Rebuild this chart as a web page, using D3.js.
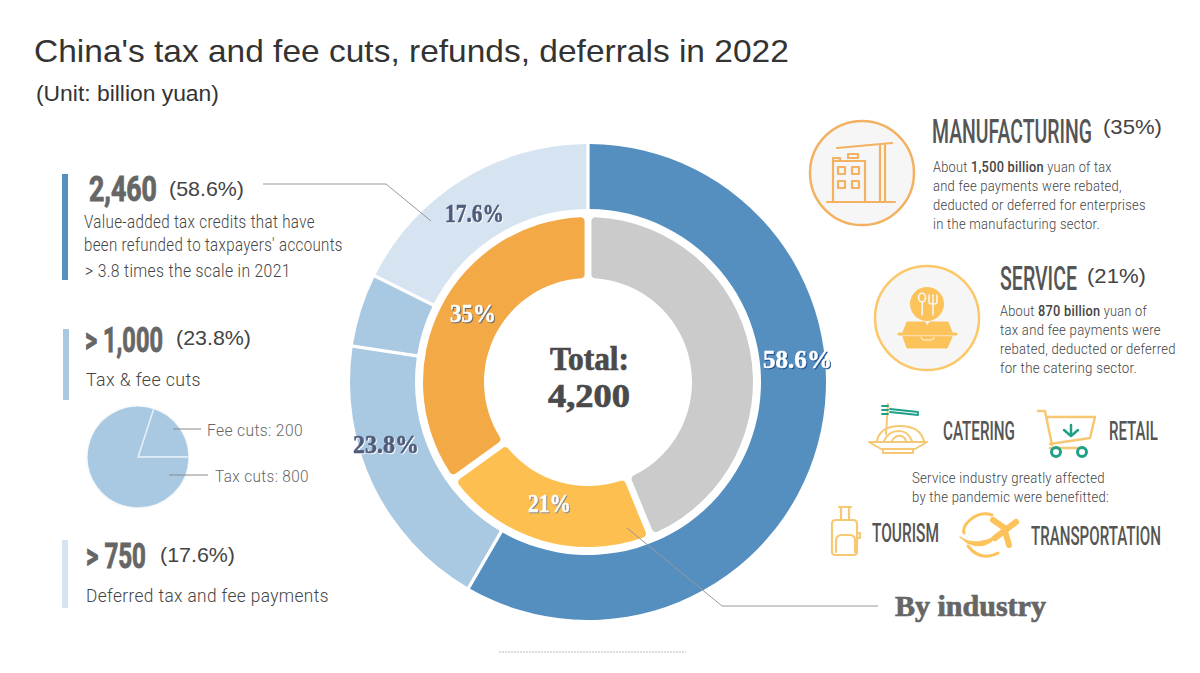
<!DOCTYPE html>
<html><head><meta charset="utf-8">
<script src="https://cdnjs.cloudflare.com/ajax/libs/d3/7.8.5/d3.min.js"></script>
<style>html,body{margin:0;padding:0;background:#fff;overflow:hidden}svg{display:block}</style>
</head><body><svg id="c" width="1200" height="673"></svg>
<script>
const outerLabels = ["Refunds","Tax cuts","Fee cuts","Deferrals"];
const outerValues = [58.6, 19.0, 4.8, 17.6];
const outerColors = ["#548fc0","#a9c8e1","#a9c8e1","#d5e4f0"];
const innerLabels = ["Other","Service","Manufacturing"];
const innerValues = [44, 21, 35];
const innerColors = ["#cbcbcb","#fdbf50","#f4a947"];
const miniLabels = ["Fee cuts","Tax cuts"];
const miniValues = [200, 800];
const miniColor = "#a9c8e1";

const svg = d3.select("#c");
const SANS="'Liberation Sans',Arial,sans-serif", COND="Roboto,sans-serif", SERIF="'Liberation Serif',serif";

// text fitted to a known x-range by horizontal scaling
function put(parts,x0,x1,y,o){
  const g=svg.append("g");
  const t=g.append("text").attr("x",0).attr("y",0)
    .attr("font-family",o.font||COND).attr("font-size",o.size)
    .attr("font-weight",o.weight||400).attr("fill",o.fill||"#555");
  if(o.spacing) t.attr("letter-spacing",o.spacing);
  if(o.stroke) t.attr("stroke",o.fill).attr("stroke-width",o.stroke);
  (Array.isArray(parts)?parts:[[parts,o.weight||400]]).forEach(p=>{
    t.append("tspan").attr("font-weight",p[1]).style("white-space","pre").text(p[0]);
  });
  if(o.shadow) t.style("filter",`drop-shadow(${o.dx||1.5}px ${o.dy||1.5}px 0 ${o.shadow})`);
  const len=t.node().getComputedTextLength();
  g.attr("transform",`translate(${x0},${y}) scale(${(x1-x0)/len},1)`);
  return t;
}

// title
put("China's tax and fee cuts, refunds, deferrals in 2022",34,789,62,{font:SANS,size:32,fill:"#333"});
put("(Unit: billion yuan)",36,219,101,{font:SANS,size:22,fill:"#333"});

// donut
const cx=588, cy=382;
const donut=svg.append("g").attr("transform",`translate(${cx},${cy})`);
const pieO=d3.pie().sort(null).padAngle(0.011);
const arcO=d3.arc().innerRadius(173).outerRadius(238);
donut.selectAll("path.o").data(pieO(outerValues)).join("path").attr("class","o")
  .attr("d",arcO).attr("fill",(d,i)=>outerColors[i]);
const pieI=d3.pie().sort(null).padAngle(0.035);
const arcI=d3.arc().innerRadius(104).outerRadius(165).cornerRadius(4);
donut.selectAll("path.i").data(pieI(innerValues)).join("path").attr("class","i")
  .attr("d",arcI).attr("fill",(d,i)=>innerColors[i]);

// left bars
[[62,174,106,outerColors[0]],[63,329,71,outerColors[1]],[62,540,68,outerColors[3]]].forEach(b=>
  svg.append("rect").attr("x",b[0]).attr("y",b[1]).attr("width",6).attr("height",b[2]).attr("fill",b[3]));

// leaders
const leader=d3.line();
[[[263,184],[386,184],[431,221]],[[627,528],[722,606],[878,606]]].forEach(p=>
  svg.append("path").attr("d",leader(p)).attr("fill","none").attr("stroke","#999").attr("stroke-width",1));

// dotted line
svg.append("line").attr("x1",499).attr("x2",686).attr("y1",652).attr("y2",652)
  .attr("stroke","#bbb").attr("stroke-width",1).attr("stroke-dasharray","2 1");

// left text
const H={size:35,weight:700,fill:"#666",stroke:0.9}, P={font:SANS,size:21,fill:"#444"}, B={size:18,weight:300,fill:"#444",spacing:0.4};
put("2,460",89,157,201,H); put("(58.6%)",169,244,196,P);
put("Value-added tax credits that have",84,315,228,B);
put("been refunded to taxpayers' accounts",84,343,251,B);
put("> 3.8 times the scale in 2021",85,291,277,B);
put("> 1,000",85,163,352,H); put("(23.8%)",176,251,345,P);
put("Tax & fee cuts",86,201,386,B);
put("> 750",86,146,568,H); put("(17.6%)",160,235,562,P);
put("Deferred tax and fee payments",86,329,602,B);

// mini pie
const mini=svg.append("g").attr("transform","translate(138,457)");
const pieM=d3.pie().sort(null).startAngle(18*Math.PI/180).endAngle(378*Math.PI/180);
const arcM=d3.arc().innerRadius(0).outerRadius(51);
mini.selectAll("path").data(pieM(miniValues)).join("path").attr("d",arcM)
  .attr("fill",miniColor).attr("stroke","#e4eef6").attr("stroke-width",1.5);
mini.append("circle").attr("r",51.5).attr("fill","none").attr("stroke","#fff").attr("stroke-width",1);
[[[173,429],[201,429]],[[169,475],[208,475]]].forEach(p=>
  svg.append("path").attr("d",leader(p)).attr("fill","none").attr("stroke","#888").attr("stroke-width",1));
const ML={size:17,weight:300,fill:"#666",spacing:0.4};
put(`${miniLabels[0]}: ${miniValues[0]}`,207,303,436,ML);
put(`${miniLabels[1]}: ${miniValues[1]}`,215,309,482,ML);

// donut labels
const L={font:SERIF,size:25,weight:700,stroke:0.5};
put("17.6%",445,504,222,{...L,fill:"#4f5b7a",shadow:"#fff"});
put("58.6%",763,832,368,{...L,fill:"#fff",shadow:"#1f4f8f"});
put("23.8%",353,419,453,{...L,fill:"#4f5b7a",shadow:"#fff"});
put("35%",450,496,322,{...L,fill:"#fff",shadow:"#666"});
put("21%",528,571,512,{...L,fill:"#fff",shadow:"#888"});
put("Total:",550,629,370,{font:SERIF,size:33,weight:700,fill:"#4a4a4a",stroke:0.7});
put("4,200",548,630,407,{font:SERIF,size:33,weight:700,fill:"#4a4a4a",stroke:0.7});
put("By industry",895,1046,616,{font:SERIF,size:29,weight:700,fill:"#666",stroke:0.7});

// right column
const T={size:33,weight:500,fill:"#555"}, S={size:15,weight:300,fill:"#444",spacing:0.3};
svg.append("circle").attr("cx",862).attr("cy",173).attr("r",52).attr("fill","#f6f6f6").attr("stroke","#f3b162").attr("stroke-width",2.5);
svg.append("circle").attr("cx",927).attr("cy",318).attr("r",52).attr("fill","#f6f6f6").attr("stroke","#fcc768").attr("stroke-width",2.5);
put("MANUFACTURING",932,1092,143,T); put("(35%)",1103,1162,134,P);
put([["About ",300],["1,500 billion",500],[" yuan of tax",300]],933,1112,172,S);
put("and fee payments were rebated,",933,1122,191,S);
put("deducted or deferred for enterprises",933,1146,210,S);
put("in the manufacturing sector.",933,1100,229,S);
put("SERVICE",1000,1077,290,T); put("(21%)",1087,1146,283,P);
put([["About ",300],["870 billion",500],[" yuan of",300]],1000,1147,316,S);
put("tax and fee payments were",1000,1161,335,S);
put("rebated, deducted or deferred",1000,1176,354,S);
put("for the catering sector.",1000,1137,373,S);

const U={size:26,weight:500,fill:"#555"};
put("CATERING",943,1015,440,U); put("RETAIL",1109,1158,440,U);
put("Service industry greatly affected",912,1105,483,S);
put("by the pandemic were benefitted:",912,1109,502,S);
put("TOURISM",872,939,542,U); put("TRANSPORTATION",1031,1161,545,U);

// icons
function icon(d,stroke,w,fill){svg.append("path").attr("d",d).attr("fill",fill||"none").attr("stroke",stroke).attr("stroke-width",w).attr("stroke-linejoin","round").attr("stroke-linecap","round");}
const M="#f3b162",Y="#fcc35a",SY="#f7c873",G="#1fa088";
// crane + building
icon("M827 202H895M837 148L892 143M880 145V202M885 144V202M833 202V161H865V202M833 161V158H840V161M848 154H858V158H848Z",M,2.2);
icon("M838 167h7v7h-7zM852 167h7v7h-7zM838 181h7v7h-7zM852 181h7v7h-7z",M,2.2);
// takeaway box
svg.append("circle").attr("cx",927).attr("cy",304).attr("r",17).attr("fill",Y);
icon("M922 302a3.5 4.5 0 1 1 .1 0V315M933 295V315M929 295V302Q929 304 933 304Q937 304 937 302V295","#f6f6f6",1.6);
icon("M903 332L907 322H925L927 326L930 322H948L952 332Z",Y,1,Y);
icon("M899 334H956",Y,3);
icon("M903 337L907 348H947L952 337Z",Y,1,Y);
icon("M921 337Q921 340 924 340H931Q934 340 934 337","#f6f6f6",1);
// noodles
icon("M869 442H927L915 449H881ZM883 449V453H913V449",SY,2);
icon("M877 441Q880 426 900 426Q920 426 924 441M884 441Q888 431 899 431Q908 431 912 441M892 441Q895 435 901 436Q905 437 906 441M888 404L886 434",SY,2);
icon("M890 409L918 412V415L890 412M882 406H888M882 410H888M882 414H888",G,1.8);
// cart
icon("M1038 411H1045L1052 445M1047 417H1095L1090 438L1050 444M1050 448H1083",SY,2.5);
icon("M1071 425V435M1064 430L1071 436L1078 430",G,2.5);
svg.append("circle").attr("cx",1056).attr("cy",452).attr("r",4.5).attr("fill","none").attr("stroke",G).attr("stroke-width",3);
svg.append("circle").attr("cx",1082).attr("cy",452).attr("r",4.5).attr("fill","none").attr("stroke",G).attr("stroke-width",3);
// suitcase
icon("M839 507H851M841 507V520M849 507V520M832 524Q832 520 836 520H853Q857 520 857 524V552Q857 555 853 555H836Q832 555 832 552ZM836 552V541Q836 535 842 535H850Q855 535 855 541V552M857 533H860V538H857Z",SY,2.2);
// plane
icon("M995 538L1016 522",Y,6);
icon("M993 520L1006 529",Y,6);
icon("M1009 545L1005 531",Y,6);
icon("M992 515Q980 511 970 520Q962 527 964 533",Y,3);
icon("M960 537Q975 548 998 535Q985 552 967 543Z",Y,1,Y);
icon("M968 546Q980 562 998 553",Y,3);
</script></body></html>
